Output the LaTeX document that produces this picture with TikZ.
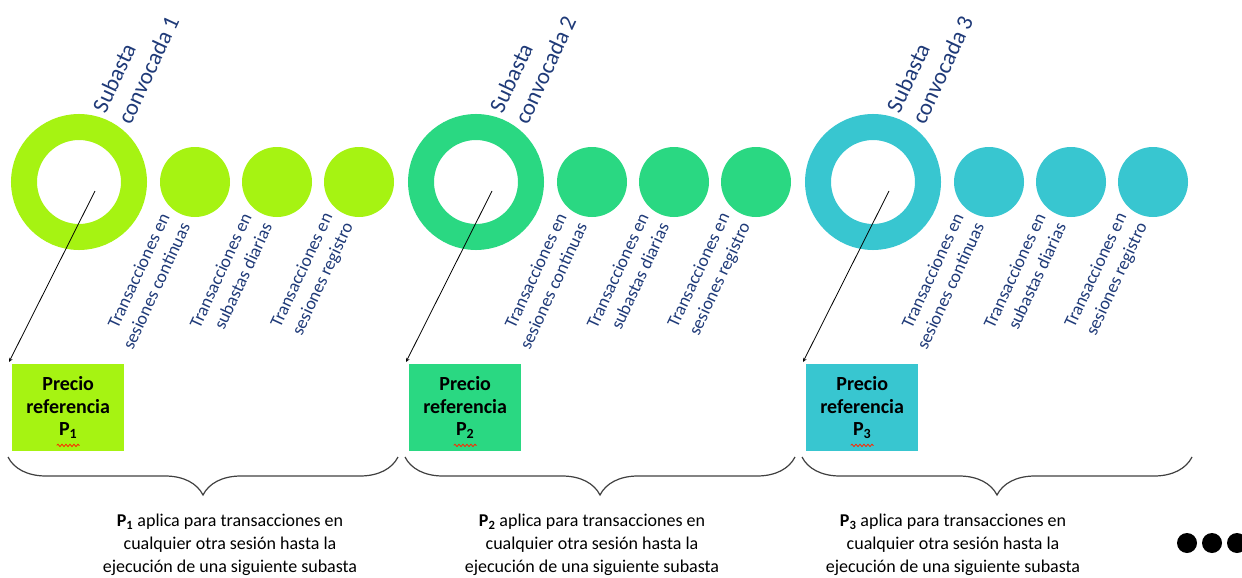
\documentclass[tikz,border=0pt]{standalone}
\usepackage{fontspec}
\setmainfont{Carlito}
\usepackage{tikz}
\usetikzlibrary{arrows, decorations.pathreplacing, decorations.pathmorphing}
\definecolor{lima}{RGB}{166,243,18}
\definecolor{verde}{RGB}{42,216,130}
\definecolor{cian}{RGB}{56,198,208}
\definecolor{azul}{RGB}{31,58,120}
\tikzset{
    anillo/.style={circle, draw=#1, line width=26pt, minimum size=110pt, inner sep=0pt},
    bola/.style={circle, fill=#1, minimum size=70pt, inner sep=0pt},
    titulo/.style={text=azul, inner sep=0pt, rotate=65, align=left, anchor=west,
        font=\fontsize{23pt}{27.6pt}\selectfont},
    etiqueta/.style={text=azul, inner sep=0pt, rotate=65, align=right, anchor=east,
        font=\fontsize{18pt}{22.6pt}\selectfont},
    precio/.style={fill=#1, minimum width=112pt, minimum height=87pt, inner sep=0pt,
        align=center, anchor=north west, font=\fontsize{20pt}{22.5pt}\selectfont\bfseries},
    nota/.style={align=center, font=\fontsize{18pt}{23pt}\selectfont},
    llave/.style={decorate, decoration={brace, mirror, amplitude=38pt}, draw=black!75, line width=1.2pt},
    subrayado/.style={draw=red!70!orange, line width=0.8pt, decorate,
        decoration={snake, amplitude=1.2pt, segment length=4pt}},
}

\begin{document}
\begin{tikzpicture}[x=1pt, y=1pt]
    \useasboundingbox (0,0) rectangle (1242,-578);
    %One group per auction: number, shift, colour, x of the note
    \foreach \n/\dx/\col/\nx in {1/0/lima/230, 2/397/verde/592, 3/794/cian/953} {
        \begin{scope}[xshift=\dx pt]
            \node[anillo=\col] (ring\n) at (79,-182) {};
            \node[bola=\col] (bola\n a) at (195,-182) {};
            \node[bola=\col] (bola\n b) at (277,-182) {};
            \node[bola=\col] (bola\n c) at (359,-182) {};
            \node[titulo] (tit\n) at (111,-117) {Subasta\\convocada \n};
            \node[etiqueta] (et\n a) at ([shift={(-20,-37)}]bola\n a.center) {Transacciones en\\sesiones continuas};
            \node[etiqueta] (et\n b) at ([shift={(-20,-37)}]bola\n b.center) {Transacciones en\\subastas diarias};
            \node[etiqueta] (et\n c) at ([shift={(-20,-37)}]bola\n c.center) {Transacciones en\\sesiones registro};
            %Reference price box and arrow from the auction
            \node[precio=\col] (box\n) at (12,-364) {Precio\\referencia\\P\textsubscript{\n}};
            \coordinate (ini\n) at ([shift={(16,-9)}]ring\n.center);
            \coordinate (fin\n) at ([shift={(-3,2)}]box\n.north west);
            \draw[-stealth, line width=0.8pt] (ini\n) -- (fin\n);
            \draw[subrayado] ([shift={(-11.5,6)}]box\n.south) -- ++(23,0);
            %Brace
            \coordinate (la\n) at (8,-457);
            \coordinate (lb\n) at (398,-457);
            \draw[llave] (la\n) -- (lb\n);
        \end{scope}
        \node[nota] (nota\n) at (\nx,-545) {\textbf{P\textsubscript{\n}} aplica para transacciones en\\cualquier otra sesión hasta la\\ejecución de una siguiente subasta};
    }
    %Dots: more auctions follow
    \fill (1187,-543) circle (10pt);
    \fill (1212,-543) circle (10pt);
    \fill (1237,-543) circle (10pt);
\end{tikzpicture}
\end{document}
